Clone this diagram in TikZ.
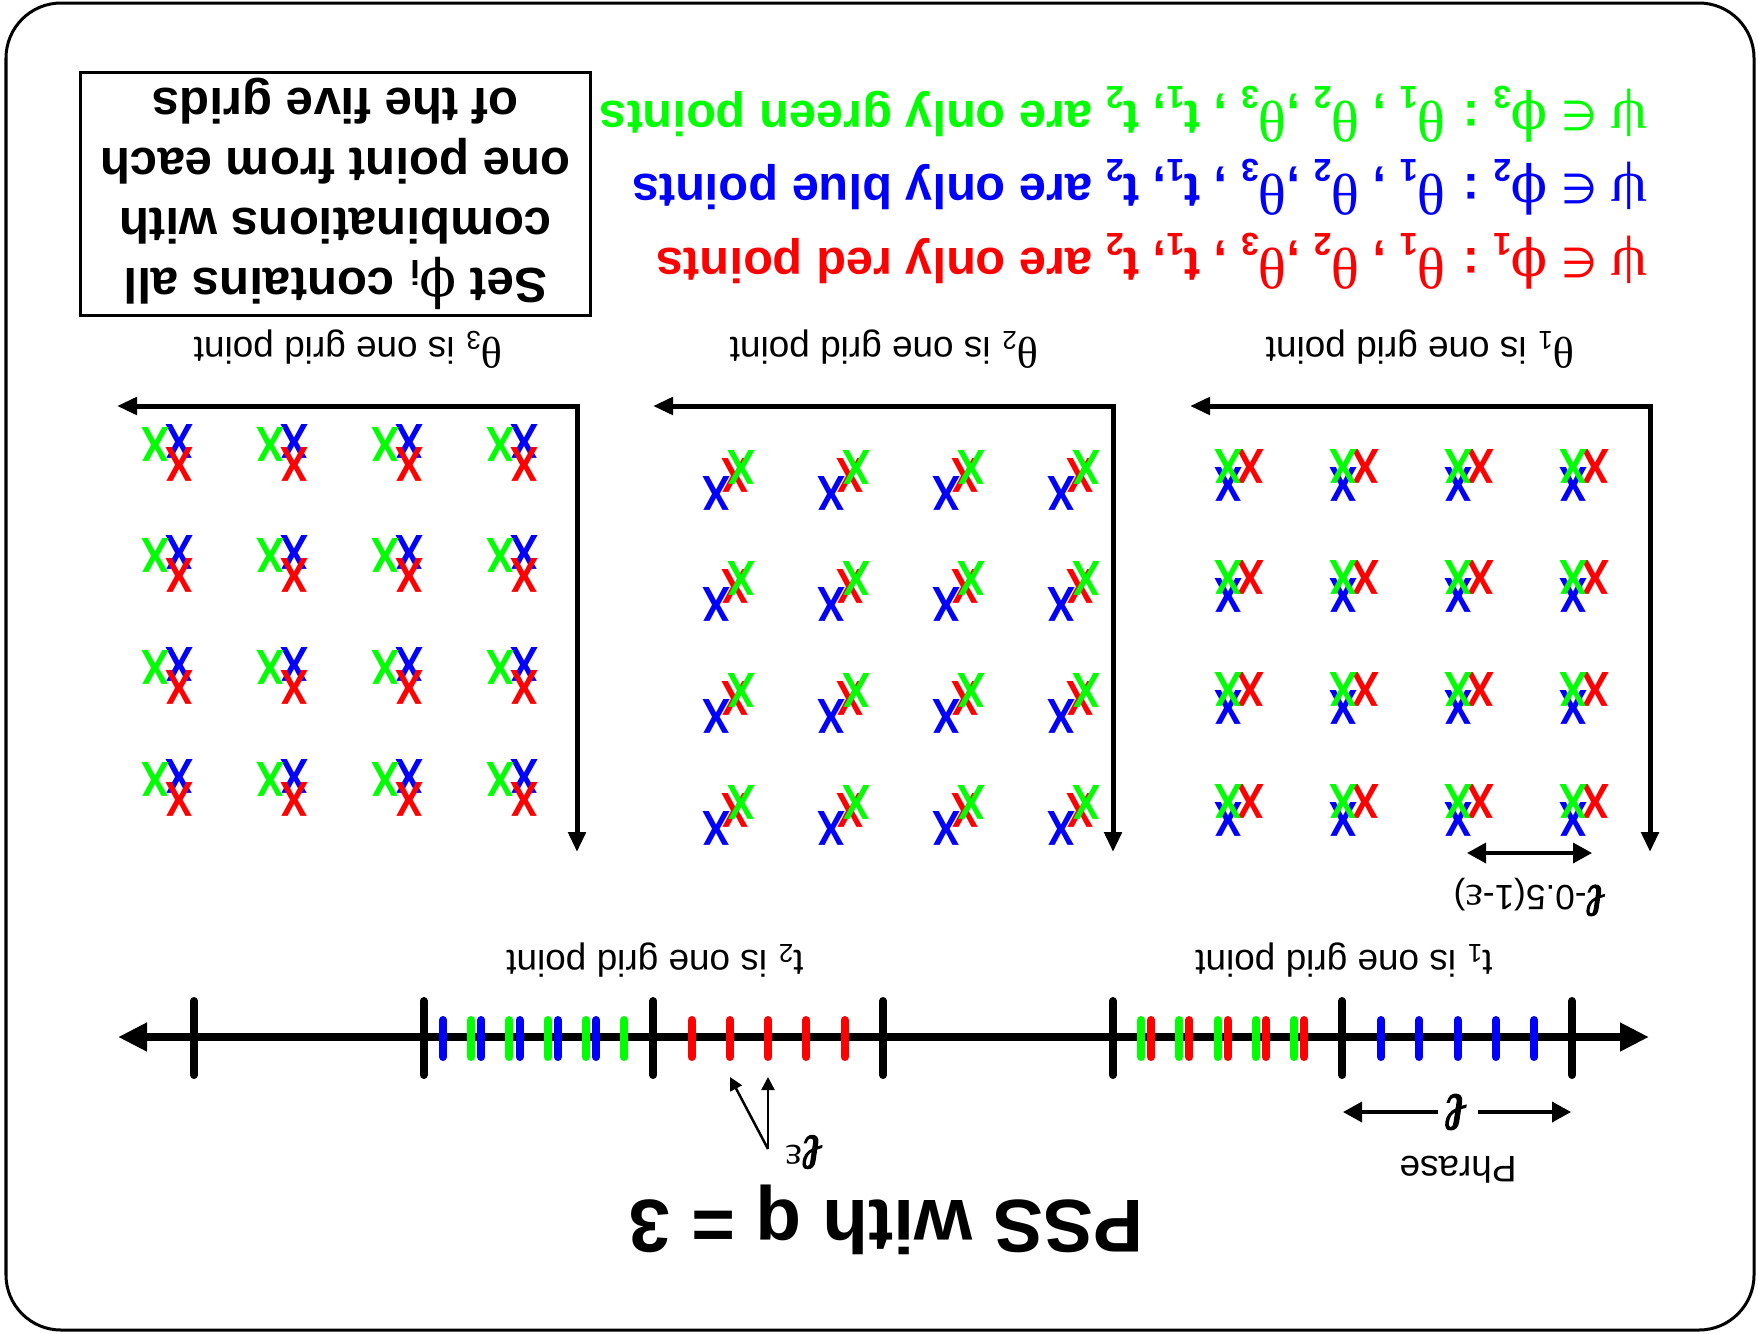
\documentclass[tikz,border=0pt]{standalone}
\usepackage{fontspec}
\setmainfont{Liberation Sans}
\newfontfamily\grkfont[Scale=1.2]{Liberation Serif}
\newfontfamily\phifont[Scale=1.1]{DejaVu Serif}
\newfontfamily\symfont[Scale=0.85]{DejaVu Sans}
\newfontfamily\ellfont[FakeBold=2.5,FakeSlant=0.15]{Liberation Serif}
\usetikzlibrary{arrows.meta}

\definecolor{cr}{RGB}{255,0,0}
\definecolor{cg}{RGB}{0,255,0}
\definecolor{cb}{RGB}{0,0,255}

% Greek letters set in a light serif, as in the original labels
\newcommand\thv{{\grkfont\mdseries θ}}
\newcommand\psv{{\grkfont\mdseries ψ}}
\newcommand\epv{{\grkfont\mdseries ε}}
\newcommand\phv{{\phifont\mdseries ϕ}}
\newcommand\inv{{\symfont\mdseries ∈}}
\newcommand\ellv{{\ellfont\mdseries ℓ}}
\newcommand\lowsub[1]{\raisebox{-0.3em}{\fontsize{0.65em}{0.65em}\selectfont #1}}
\newcommand\setline[2]{\psv\ \inv\ \phv\lowsub{#1} : \thv\lowsub{1} , \thv\lowsub{2} ,\thv\lowsub{3} , t\lowsub{1}, t\lowsub{2} are only #2 points}

\tikzset{
  txt/.style={rotate=180, inner sep=0pt},
  xm/.style={rotate=180, inner sep=0pt, xscale=0.85, font=\fontsize{14}{14}\selectfont\bfseries},
  frame/.style={line width=0.05cm, {Triangle[length=0.2cm,width=0.17cm]}-{Triangle[length=0.2cm,width=0.17cm]}},
  axis/.style={line width=0.08cm, {Triangle[length=0.29cm,width=0.27cm]}-{Triangle[length=0.29cm,width=0.27cm]}},
  major/.style={line width=0.08cm, line cap=round},
  tick/.style={line width=0.08cm, line cap=round},
  dim/.style={line width=0.035cm, {Triangle[length=0.19cm,width=0.2cm]}-{Triangle[length=0.19cm,width=0.2cm]}},
  thin arrow/.style={line width=0.025cm, -{Triangle[length=0.13cm,width=0.13cm]}},
  lbl/.style={txt, font=\fontsize{10.5}{12}\selectfont},
  colline/.style={txt, anchor=base west, font=\fontsize{13.85}{16}\selectfont\bfseries},
}

\begin{document}
\begin{tikzpicture}[x=0.01cm, y=-0.01cm]
\useasboundingbox (0,0) rectangle (1758,1333);

% outer frame
\draw[line width=0.03cm, rounded corners=0.55cm] (6,3) rectangle (1754,1330);

% explanatory box
\node[txt, draw, line width=0.03cm, minimum width=5.09cm, minimum height=2.42cm,
      align=center, font=\fontsize{14}{17}\selectfont\bfseries] (box) at (335.5,194)
  {Set \phv\textsubscript{i} contains all\\combinations with\\one point from each\\of the five grids};

% the three colour statements
\node[colline, text=cr] (redline)   at (1648,248) {\setline{1}{red}};
\node[colline, text=cb] (blueline)  at (1648,174) {\setline{2}{blue}};
\node[colline, text=cg] (greenline) at (1648,101) {\setline{3}{green}};

% grid labels
\node[lbl] (lab1) at (1420,349) {\thv\textsubscript{1} is one grid point};
\node[lbl] (lab2) at (884,349)  {\thv\textsubscript{2} is one grid point};
\node[lbl] (lab3) at (348,349)  {\thv\textsubscript{3} is one grid point};

% grid axes
\foreach \g/\cx in {1/1650, 2/1113, 3/577} {
  \coordinate (c\g) at (\cx,406);
  \coordinate (h\g) at (\cx-460,406);
  \coordinate (v\g) at (\cx,852);
  \draw[frame] (h\g) -- (c\g) -- (v\g);
}

% grid points
\foreach \i in {0,...,3} {
  \foreach \j in {0,...,3} {
    % grid 1
    \node[xm, text=cb] (g1b-\i-\j) at (1229+115*\i, 484+111.7*\j) {X};
    \node[xm, text=cr] (g1r-\i-\j) at (1251+115*\i, 466+111.7*\j) {X};
    \node[xm, text=cg] (g1g-\i-\j) at (1229+115*\i, 466+111.7*\j) {X};
    % grid 2
    \node[xm, text=cb] (g2b-\i-\j) at (717+115*\i, 493+111.7*\j) {X};
    \node[xm, text=cr] (g2r-\i-\j) at (736+115*\i, 475+111.7*\j) {X};
    \node[xm, text=cg] (g2g-\i-\j) at (742+115*\i, 467+111.7*\j) {X};
    % grid 3
    \node[xm, text=cb] (g3b-\i-\j) at (180+115*\i, 441+111.7*\j) {X};
    \node[xm, text=cr] (g3r-\i-\j) at (180+115*\i, 464+111.7*\j) {X};
    \node[xm, text=cg] (g3g-\i-\j) at (156+115*\i, 444+111.7*\j) {X};
  }
}

% spacing of grid points
\coordinate (d1) at (1467,853);
\coordinate (d2) at (1592,853);
\draw[dim] (d1) -- (d2);
\node[txt, font=\fontsize{10}{12}\selectfont] (dlab) at (1531,897)
  {{\fontsize{13}{13}\selectfont\ellv}-0.5(1-\epv)};

% time axis
\coordinate (al) at (118,1037);
\coordinate (ar) at (1649,1037);
\draw[axis] (al) -- (ar);
\foreach \k in {0,...,6}
  \draw[major] (194+229.67*\k,1001) -- (194+229.67*\k,1075);

\foreach \k in {0,...,4} {
  \draw[tick, draw=cg] (471+38.28*\k,1020) -- ++(0,37);
  \draw[tick, draw=cb] (443+38.28*\k,1020) -- ++(0,37);
  \draw[tick, draw=cr] (691.5+38.28*\k,1020) -- ++(0,37);
  \draw[tick, draw=cg] (1141+38.28*\k,1020) -- ++(0,37);
  \draw[tick, draw=cr] (1151+38.28*\k,1020) -- ++(0,37);
  \draw[tick, draw=cb] (1381+38.28*\k,1020) -- ++(0,37);
}

\node[lbl] (t1lab) at (1344,960) {t\textsubscript{1} is one grid point};
\node[lbl] (t2lab) at (655,960)  {t\textsubscript{2} is one grid point};

% phrase length
\coordinate (p1) at (1343,1112);
\coordinate (p2) at (1571,1112);
\draw[dim] (p1) -- (p2);
\node[txt, fill=white, inner sep=2pt, font=\fontsize{15}{16}\selectfont] (ell) at (1458,1112) {\ellv};
\node[lbl] (phrase) at (1458,1170) {Phrase};

% small step between neighbouring points
\coordinate (e0) at (768,1149);
\coordinate (e1) at (768,1077);
\coordinate (e2) at (730,1077);
\draw[thin arrow] (e0) -- (e1);
\draw[thin arrow] (e0) -- (e2);
\node[txt, font=\fontsize{14}{15}\selectfont] (eps) at (806,1152)
  {\ellv\raisebox{0.2em}{\fontsize{9.5}{9.5}\selectfont\epv}};

% title
\node[txt, anchor=base, font=\fontsize{21.3}{24}\selectfont\bfseries] (title) at (886,1200) {PSS with q = 3};
\end{tikzpicture}
\end{document}
